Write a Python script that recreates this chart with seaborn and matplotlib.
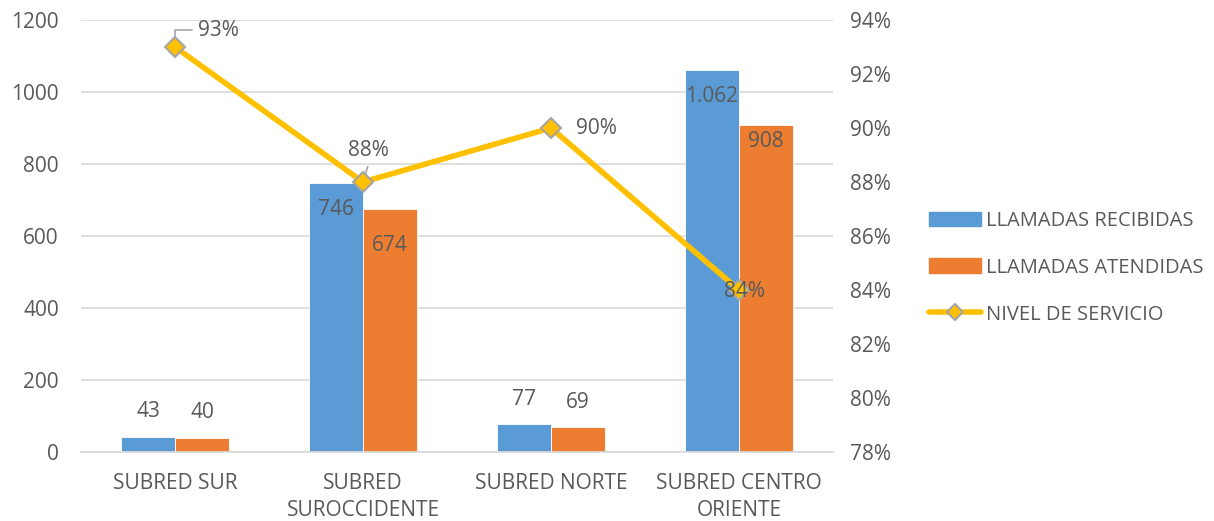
import numpy as np
import pandas as pd
import matplotlib
matplotlib.use("Agg")
import matplotlib.pyplot as plt
import seaborn as sns
from matplotlib.patches import Patch
from matplotlib.lines import Line2D
from matplotlib.ticker import FuncFormatter

categories = ["SUBRED SUR", "SUBRED\nSUROCCIDENTE", "SUBRED NORTE", "SUBRED CENTRO\nORIENTE"]
recibidas = [43, 746, 77, 1062]
atendidas = [40, 674, 69, 908]
nivel = [0.93, 0.88, 0.90, 0.84]
series_names = ["LLAMADAS RECIBIDAS", "LLAMADAS ATENDIDAS", "NIVEL DE SERVICIO"]
recibidas_labels = ["43", "746", "77", "1.062"]
atendidas_labels = ["40", "674", "69", "908"]
nivel_labels = ["93%", "88%", "90%", "84%"]

sns.set_theme(style="white")
plt.rcParams['font.family'] = ['Open Sans', 'DejaVu Sans']
TXT = "#595959"
BLUE = "#5B9BD5"
ORANGE = "#ED7D31"
GOLD = "#FFC000"
GRAY = "#A5A5A5"
FS = 15

df = pd.DataFrame({
    "cat": categories * 2,
    "val": recibidas + atendidas,
    "serie": [series_names[0]] * 4 + [series_names[1]] * 4,
})

fig = plt.figure(figsize=(12.14, 5.21), dpi=100)
ax = fig.add_axes([0.0667, 0.1324, 0.6195, 0.8292])
sns.barplot(data=df, x="cat", y="val", hue="serie", palette=[BLUE, ORANGE],
            width=0.575, gap=0, ax=ax, legend=False, saturation=1,
            edgecolor="white", linewidth=0.6)
ax.set_ylim(0, 1200)
ax.set_yticks(range(0, 1201, 200))
ax.set_xlabel("")
ax.set_ylabel("")
ax.grid(axis="y", color="#D9D9D9", linewidth=1.2)
ax.set_axisbelow(True)
for s in ["top", "right", "left"]:
    ax.spines[s].set_visible(False)
ax.spines["bottom"].set_color("#D9D9D9")
ax.tick_params(axis="both", colors=TXT, labelsize=FS, length=0)
ax.tick_params(axis="y", pad=16)
ax.tick_params(axis="x", pad=15)
for t in ax.get_xticklabels():
    t.set_linespacing(1.4)

# bar labels
bar_offsets_r = [18, -19, 18, -19]
bar_offsets_a = [18, -26, 18, -12]
for cont, labels, offs in [(ax.containers[0], recibidas_labels, bar_offsets_r),
                           (ax.containers[1], atendidas_labels, bar_offsets_a)]:
    for rect, lab, off in zip(cont, labels, offs):
        x = rect.get_x() + rect.get_width() / 2
        y = rect.get_height()
        ax.annotate(lab, (x, y), xytext=(0, off), textcoords="offset points",
                    ha="center", va="center", fontsize=FS, color=TXT)

ax2 = ax.twinx()
xpos = np.arange(len(categories))
sns.lineplot(x=xpos, y=nivel, ax=ax2, color=GOLD, linewidth=4, marker="D",
             markersize=10, markerfacecolor=GOLD, markeredgecolor=GRAY,
             markeredgewidth=1.5, zorder=5)
ax2.set_ylim(0.78, 0.94)
ax2.set_yticks(np.arange(0.78, 0.9401, 0.02))
ax2.yaxis.set_major_formatter(FuncFormatter(lambda v, p: f"{round(v*100)}%"))
for s in ["top", "right", "left", "bottom"]:
    ax2.spines[s].set_visible(False)
ax2.tick_params(axis="y", colors=TXT, labelsize=FS, length=0, pad=12)
ax.set_xlim(-0.5, 3.5)

line_offsets = [(31, 12), (4, 23), (33, 0), (4, -1)]
for x, y, lab, off in zip(xpos, nivel, nivel_labels, line_offsets):
    ax2.annotate(lab, (x, y), xytext=off, textcoords="offset points",
                 ha="center", va="center", fontsize=FS, color=TXT, zorder=10)
# leader lines
ax2.annotate("", (xpos[0], nivel[0]), xytext=(14, 12), textcoords="offset points",
             arrowprops=dict(arrowstyle="-", color=GRAY, lw=1.2,
                             connectionstyle="angle,angleA=0,angleB=90,rad=0"))
ax2.annotate("", (xpos[1], nivel[1]), xytext=(4, 13), textcoords="offset points",
             arrowprops=dict(arrowstyle="-", color=GRAY, lw=1.2))

handles = [Patch(facecolor=BLUE, edgecolor=BLUE),
           Patch(facecolor=ORANGE, edgecolor=ORANGE),
           Line2D([0], [0], color=GOLD, lw=4, marker="D", markersize=8,
                  markerfacecolor=GOLD, markeredgecolor=GRAY, markeredgewidth=1.5)]
leg = fig.legend(handles, series_names, loc="center left",
                 bbox_to_anchor=(0.765, 0.486), frameon=False, fontsize=14.5,
                 handlelength=2.6, handleheight=0.75, labelspacing=1.33,
                 handletextpad=0.25, labelcolor=TXT, borderaxespad=0,
                 borderpad=0)

fig.savefig("out.png", dpi=100)
